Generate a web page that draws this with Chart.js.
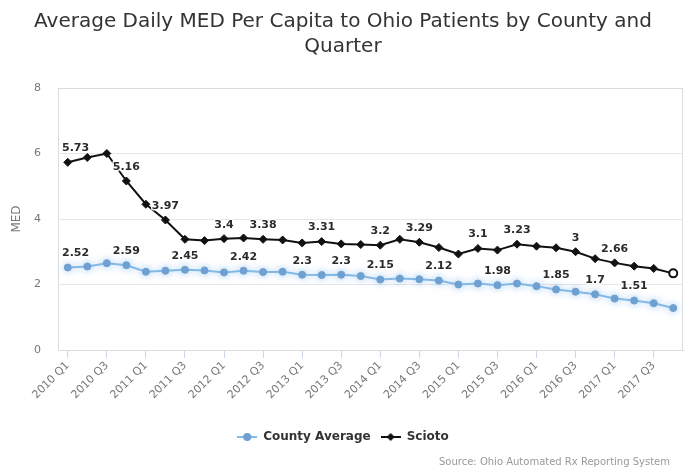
<!DOCTYPE html>
<html>
<head>
<meta charset="utf-8">
<script src="https://cdn.jsdelivr.net/npm/chart.js@4/dist/chart.umd.min.js"></script>
<style>
  html, body { margin: 0; padding: 0; background: #fff; }
  #wrap { width: 689px; height: 472px; }
</style>
</head>
<body>
<div id="wrap"><canvas id="medChart"></canvas></div>
<script>
// quarters on the x axis
const quarters = [
    "2010 Q1", "2010 Q2", "2010 Q3", "2010 Q4",
    "2011 Q1", "2011 Q2", "2011 Q3", "2011 Q4",
    "2012 Q1", "2012 Q2", "2012 Q3", "2012 Q4",
    "2013 Q1", "2013 Q2", "2013 Q3", "2013 Q4",
    "2014 Q1", "2014 Q2", "2014 Q3", "2014 Q4",
    "2015 Q1", "2015 Q2", "2015 Q3", "2015 Q4",
    "2016 Q1", "2016 Q2", "2016 Q3", "2016 Q4",
    "2017 Q1", "2017 Q2", "2017 Q3", "2017 Q4"
];

const countyAverage = [
    2.52, 2.55, 2.65, 2.59, 2.39, 2.42, 2.45, 2.43,
    2.37, 2.42, 2.38, 2.39, 2.30, 2.29, 2.30, 2.26,
    2.15, 2.18, 2.16, 2.12, 2.00, 2.03, 1.98, 2.03,
    1.95, 1.85, 1.78, 1.70, 1.57, 1.51, 1.43, 1.28
];

const scioto = [
    5.73, 5.88, 6.00, 5.16, 4.45, 3.97, 3.38, 3.34,
    3.40, 3.42, 3.38, 3.36, 3.27, 3.31, 3.24, 3.22,
    3.20, 3.38, 3.29, 3.13, 2.93, 3.10, 3.05, 3.23,
    3.17, 3.12, 3.00, 2.79, 2.66, 2.56, 2.49, 2.34
];

// which points carry a value label (the rest were hidden for overlap)
const countyLabelIdx = [0, 3, 6, 9, 12, 14, 16, 19, 22, 25, 27, 29];
const sciotoLabelIdx = [0, 3, 5, 8, 10, 13, 16, 18, 21, 23, 26, 28];

const yTicks = [0, 2, 4, 6, 8];

const FONT = "'DejaVu Sans', sans-serif";
const BLUE = "#86bbe8";
const BLUE_DOT = "#6f9fcf";
const CREDIT = "Source: Ohio Automated Rx Reporting System";

// legend symbol: short line with the marker in the middle
function legendSymbol(color, fill, shape) {
    const c = document.createElement("canvas");
    c.width = 20; c.height = 10;
    const g = c.getContext("2d");
    g.strokeStyle = color; g.lineWidth = 2;
    g.beginPath(); g.moveTo(0, 5); g.lineTo(20, 5); g.stroke();
    g.fillStyle = fill;
    g.beginPath();
    if (shape === "diamond") {
        g.moveTo(10, 1); g.lineTo(14, 5); g.lineTo(10, 9); g.lineTo(6, 5);
    } else {
        g.arc(10, 5, 4, 0, Math.PI * 2);
    }
    g.closePath(); g.fill();
    return c;
}

const glowPlugin = {
    id: "glow",
    beforeDatasetDraw(chart, args) {
        if (args.index !== 0) return;
        const ctx = chart.ctx;
        ctx.save();
        ctx.shadowColor = "rgba(124, 181, 236, 0.55)";
        ctx.shadowBlur = 7;
    },
    afterDatasetDraw(chart, args) {
        if (args.index !== 0) return;
        chart.ctx.restore();
    }
};

const borderPlugin = {
    id: "plotBorder",
    beforeDatasetsDraw(chart) {
        const a = chart.chartArea, ctx = chart.ctx;
        ctx.save();
        ctx.strokeStyle = "#dcdcdc";
        ctx.lineWidth = 1;
        ctx.strokeRect(a.left + 0.5, a.top + 0.5, a.right - a.left - 1, a.bottom - a.top);
        ctx.restore();
    }
};

const valueLabelPlugin = {
    id: "valueLabels",
    afterDatasetsDraw(chart) {
        const ctx = chart.ctx, area = chart.chartArea;
        ctx.save();
        ctx.font = "bold 11px " + FONT;
        ctx.textAlign = "center";
        ctx.textBaseline = "middle";
        ctx.lineJoin = "round";
        chart.data.datasets.forEach((ds, di) => {
            const meta = chart.getDatasetMeta(di);
            ds.labelIdx.forEach(i => {
                const pt = meta.data[i];
                const txt = String(ds.data[i]);
                const w = ctx.measureText(txt).width;
                let x = Math.max(pt.x, area.left + 4 + w / 2);
                const y = pt.y - 14;
                ctx.strokeStyle = "rgba(255,255,255,0.9)";
                ctx.lineWidth = 3;
                ctx.strokeText(txt, x, y);
                ctx.fillStyle = "#2b2b2b";
                ctx.fillText(txt, x, y);
            });
        });
        ctx.restore();
    }
};

// credits line in the bottom right corner
const creditPlugin = {
    id: "credit",
    afterDraw(chart) {
        const ctx = chart.ctx;
        ctx.save();
        ctx.font = "10px " + FONT;
        ctx.fillStyle = "#999";
        ctx.textAlign = "right";
        ctx.textBaseline = "middle";
        ctx.fillText(CREDIT, chart.width - 19, chart.height - 10);
        ctx.restore();
    }
};

const ctx = document.getElementById("medChart");
new Chart(ctx, {
    type: "line",
    data: {
        labels: quarters,
        datasets: [{
            label: "County Average",
            data: countyAverage,
            labelIdx: countyLabelIdx,
            borderColor: BLUE,
            backgroundColor: BLUE_DOT,
            pointBackgroundColor: BLUE_DOT,
            pointBorderColor: BLUE_DOT,
            pointRadius: 3.5,
            pointBorderWidth: 1,
            pointStyle: "circle",
            borderWidth: 2,
            tension: 0,
            fill: false
        }, {
            label: "Scioto",
            data: scioto,
            labelIdx: sciotoLabelIdx,
            borderColor: "#111",
            backgroundColor: "#111",
            pointBackgroundColor: scioto.map((v, i) => i === scioto.length - 1 ? "#fff" : "#111"),
            pointBorderColor: "#111",
            pointBorderWidth: scioto.map((v, i) => i === scioto.length - 1 ? 2 : 1),
            pointStyle: scioto.map((v, i) => i === scioto.length - 1 ? "circle" : "rectRot"),
            pointRadius: 4,
            borderWidth: 2,
            tension: 0,
            fill: false
        }]
    },
    options: {
        responsive: true,
        maintainAspectRatio: false,
        animation: false,
        layout: { padding: { left: 0, right: 3, top: 0, bottom: 19 } },
        plugins: {
            title: {
                display: true,
                text: ["Average Daily MED Per Capita to Ohio Patients by County and", "Quarter"],
                color: "#333",
                font: { family: FONT, size: 20, weight: "normal", lineHeight: 1.25 },
                padding: { top: 9, bottom: 29 }
            },
            legend: {
                position: "bottom",
                labels: {
                    color: "#333",
                    font: { family: FONT, size: 12, weight: "bold" },
                    usePointStyle: true,
                    pointStyleWidth: 20,
                    padding: 10,
                    generateLabels(chart) {
                        return [{
                            text: "County Average",
                            pointStyle: legendSymbol(BLUE, BLUE_DOT, "circle"),
                            fontColor: "#333",
                            lineWidth: 0,
                            datasetIndex: 0
                        }, {
                            text: "Scioto",
                            pointStyle: legendSymbol("#111", "#111", "diamond"),
                            fontColor: "#333",
                            lineWidth: 0,
                            datasetIndex: 1
                        }];
                    }
                }
            },
            tooltip: { enabled: false }
        },
        scales: {
            x: {
                type: "category",
                offset: true,
                grid: {
                    drawOnChartArea: false,
                    drawTicks: true,
                    tickLength: 8,
                    color: "#ccd6eb"
                },
                border: { color: "#ccd6eb" },
                ticks: {
                    autoSkip: false,
                    maxRotation: 45,
                    minRotation: 45,
                    padding: 1,
                    color: "#777",
                    font: { family: FONT, size: 11 },
                    callback(value, index) {
                        return index % 2 === 0 ? this.getLabelForValue(value) : null;
                    }
                },
                afterFit(scale) { scale.height = 71; }
            },
            y: {
                min: 0,
                max: 8,
                afterBuildTicks(scale) {
                    scale.ticks = yTicks.map(v => ({ value: v }));
                },
                grid: { color: "#e6e6e6", drawTicks: false },
                border: { color: "#dcdcdc" },
                ticks: {
                    padding: 17,
                    color: "#777",
                    font: { family: FONT, size: 11 }
                },
                title: {
                    display: true,
                    text: "MED",
                    color: "#777",
                    font: { family: FONT, size: 12 },
                    padding: { top: 10, bottom: 0 }
                },
                afterFit(scale) { scale.width = 58; }
            }
        }
    },
    plugins: [glowPlugin, borderPlugin, valueLabelPlugin, creditPlugin]
});
</script>
</body>
</html>
